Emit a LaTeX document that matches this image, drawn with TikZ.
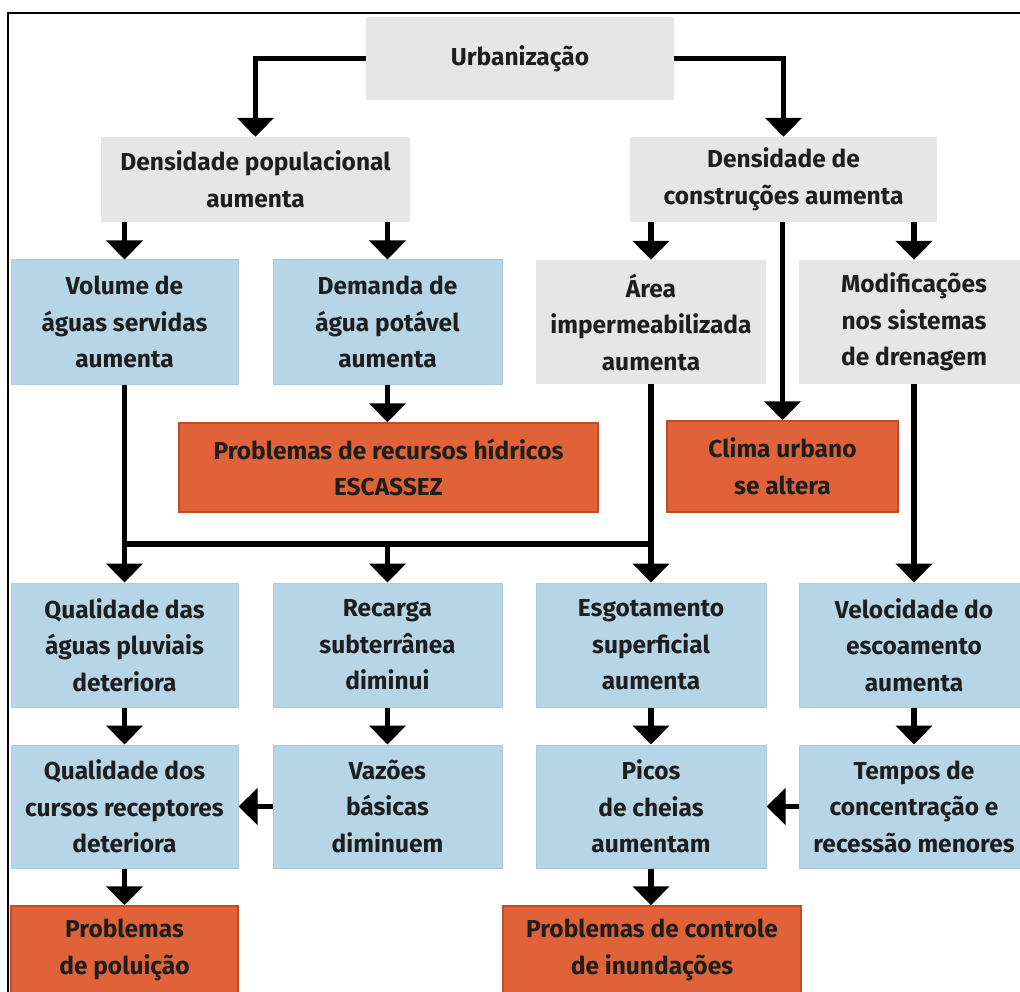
\documentclass[tikz,border=0pt]{standalone}
\usepackage{fontspec}
\setmainfont{Fira Sans}
\usetikzlibrary{arrows.meta}
\definecolor{gboxc}{HTML}{E6E6E7}
\definecolor{bboxc}{HTML}{B6D6E7}
\definecolor{bboxd}{HTML}{A8CCDE}
\definecolor{oboxc}{HTML}{DF6239}
\definecolor{oboxd}{HTML}{C24A24}
\definecolor{txtc}{HTML}{1E1E1E}
\tikzset{
  base/.style={inner sep=0pt, align=center, text=txtc,
    font=\bfseries\fontsize{24.5}{36.5}\selectfont},
  gbox/.style={base, fill=gboxc},
  bbox/.style={base, fill=bboxc, draw=bboxd, line width=1pt},
  obox/.style={base, fill=oboxc, draw=oboxd, line width=1.5pt},
  arr/.style={line width=5.5pt, -{Triangle[width=36pt,length=19pt]}},
  ln/.style={line width=5.5pt},
  up/.style={yshift=3pt},
}
\begin{document}
\begin{tikzpicture}[x=1pt,y=-1pt]
\useasboundingbox (0,0) rectangle (1020,992);
\clip (0,0) rectangle (1020,992);
\draw[line width=2pt] (8,1100) -- (8,13) -- (1100,13);

% row 0/1
\node[gbox, minimum width=308pt, minimum height=83pt] (urb) at (520,58.5) {Urbanização};
\node[gbox, minimum width=309pt, minimum height=85pt] (dpop) at (255.5,179.5) {Densidade populacional\\aumenta};
\node[gbox, minimum width=307pt, minimum height=85pt] (dcon) at (783.5,179.5) {Densidade de\\construções aumenta};

% row 2
\node[bbox, minimum width=227pt, minimum height=124pt] (vol) at (124.5,322) {Volume de\\águas servidas\\aumenta};
\node[bbox, minimum width=229pt, minimum height=124pt] (dem) at (387.5,322) {Demanda de\\água potável\\aumenta};
\node[gbox, minimum width=230pt, minimum height=124pt] (area) at (651,322) {Área\\impermeabilizada\\aumenta};
\node[gbox, minimum width=230pt, minimum height=124pt] (mod) at (914,322) {Modificações\\nos sistemas\\de drenagem};

% row 3
\node[obox, minimum width=419pt, minimum height=89pt] (rec) at (388.5,467.5) {Problemas de recursos hídricos\\ESCASSEZ};
\node[obox, minimum width=231pt, minimum height=91pt] (clima) at (782.5,466.5) {Clima urbano\\se altera};

% row 4
\node[bbox, minimum width=227pt, minimum height=124pt] (qual1) at (124.5,645) {Qualidade das\\águas pluviais\\deteriora};
\node[bbox, minimum width=229pt, minimum height=124pt] (recg) at (387.5,645) {Recarga\\subterrânea\\diminui};
\node[bbox, minimum width=230pt, minimum height=124pt] (esg) at (651,645) {Esgotamento\\superficial\\aumenta};
\node[bbox, minimum width=230pt, minimum height=124pt] (vel) at (914,645) {Velocidade do\\escoamento\\aumenta};

% row 5
\node[bbox, minimum width=227pt, minimum height=123pt] (qual2) at (124.5,806.5) {Qualidade dos\\cursos receptores\\deteriora};
\node[bbox, minimum width=229pt, minimum height=123pt] (vaz) at (387.5,806.5) {Vazões\\básicas\\diminuem};
\node[bbox, minimum width=230pt, minimum height=123pt] (picos) at (651,806.5) {Picos\\de cheias\\aumentam};
\node[bbox, minimum width=230pt, minimum height=123pt] (tempos) at (914,806.5) {Tempos de\\concentração e\\recessão menores};

% row 6
\node[obox, minimum width=227pt, minimum height=88pt] (pol) at (124.5,950) {Problemas\\de poluição};
\node[obox, minimum width=298pt, minimum height=88pt] (ctrl) at (652,950) {Problemas de controle\\de inundações};

% connectors
\draw[arr] (urb.west) -| (dpop.north);
\draw[arr] (urb.east) -| (dcon.north);
\draw[arr] (vol.north |- dpop.south) -- (vol.north);
\draw[arr] (dem.north |- dpop.south) -- (dem.north);
\draw[arr] (area.north |- dcon.south) -- (area.north);
\draw[arr] (clima.north |- dcon.south) -- (clima.north);
\draw[arr] (mod.north |- dcon.south) -- (mod.north);
\draw[arr] (dem.south) -- (dem.south |- rec.north);

\coordinate (j1) at (124.5,544);
\coordinate (j2) at (651,544);
\draw[ln] (j1) -- (j2);
\draw[arr] (vol.south) -- (qual1.north);
\draw[arr] (area.south) -- (esg.north);
\draw[arr] (recg.north |- j1) -- (recg.north);
\draw[arr] (mod.south) -- (vel.north);

\draw[arr] (qual1.south) -- (qual2.north);
\draw[arr] (recg.south) -- (vaz.north);
\draw[arr] (esg.south) -- (picos.north);
\draw[arr] (vel.south) -- (tempos.north);

\draw[arr] (vaz.west) -- (qual2.east);
\draw[arr] (tempos.west) -- (picos.east);

\draw[arr] (qual2.south) -- (pol.north);
\draw[arr] (picos.south) -- (picos.south |- ctrl.north);
\end{tikzpicture}
\end{document}
